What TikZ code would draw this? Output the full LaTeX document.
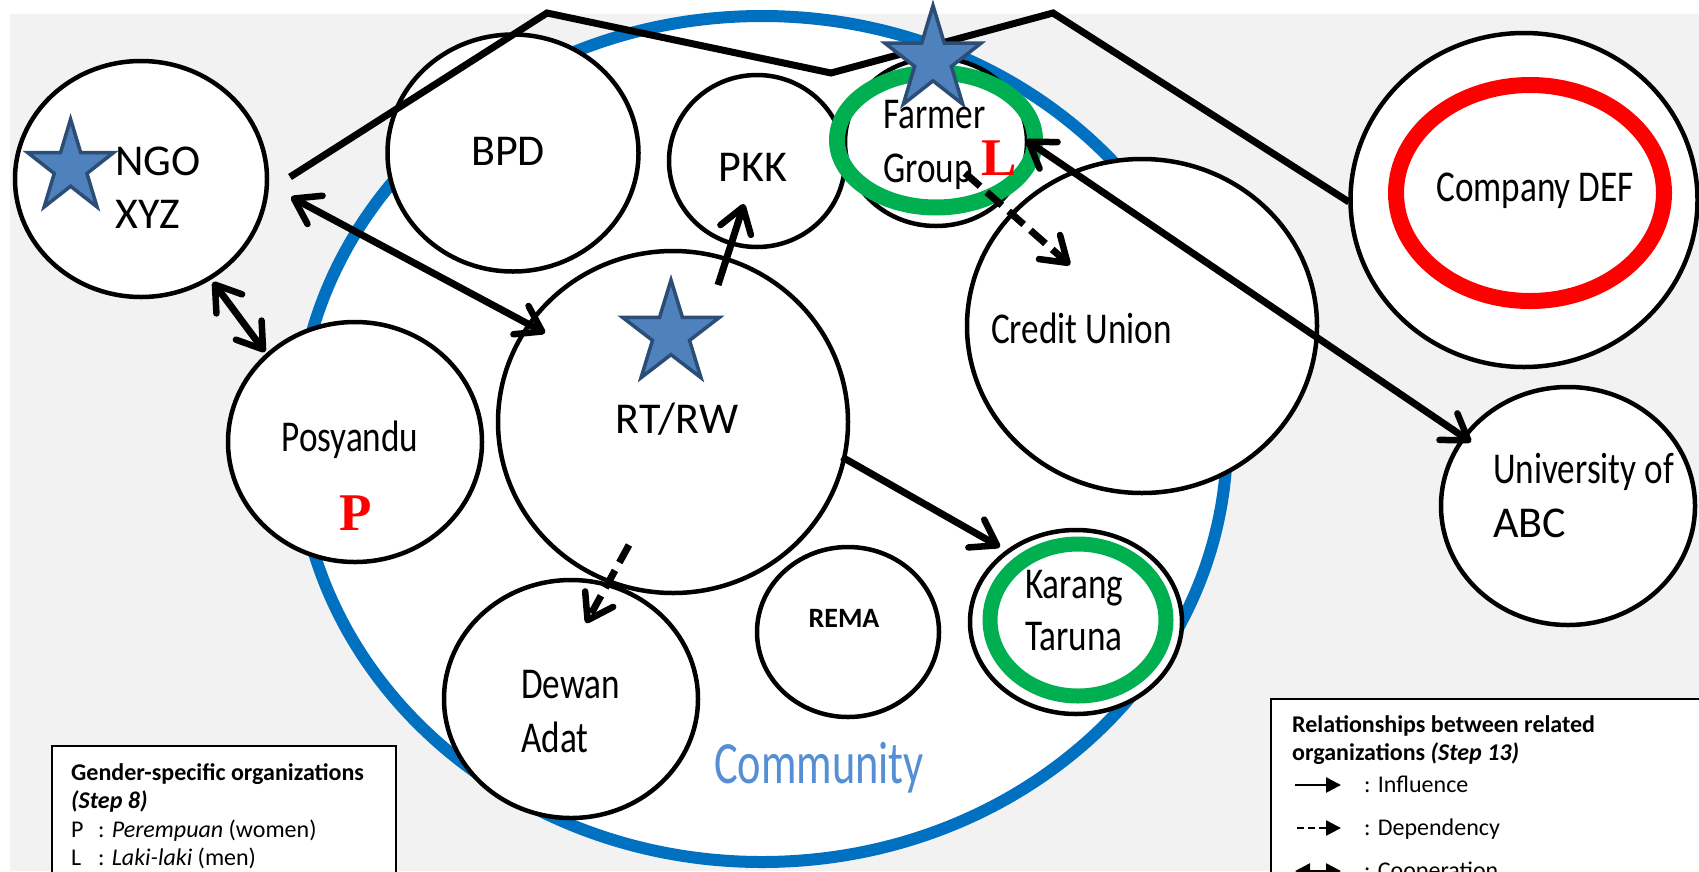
\documentclass[tikz,border=0pt]{standalone}
\usepackage{fontspec}
\setmainfont{Carlito}
\newfontfamily\handA{Carlito}
\newfontfamily\handB[FakeStretch=0.8]{Carlito}
\newfontfamily\handC[FakeStretch=0.74]{Carlito}
\newfontfamily\redserif{Liberation Serif}
\usetikzlibrary{shapes.geometric,arrows.meta}
\definecolor{bggray}{HTML}{F2F2F2}
\definecolor{commblue}{HTML}{0070C0}
\definecolor{starfill}{HTML}{4F81BD}
\definecolor{stardraw}{HTML}{2C4D75}
\definecolor{grn}{HTML}{00B050}
\definecolor{commtext}{HTML}{558ED5}
\definecolor{redmark}{HTML}{FF0000}
\newcommand\drawmystar[4]{%
  \draw[starsty,shift={(#1,#2)},xscale=#3,yscale=-#4]
    (90:1) -- (126:0.382) -- (162:1) -- (198:0.382) -- (234:1) -- (270:0.382)
    -- (306:1) -- (342:0.382) -- (18:1) -- (54:0.382) -- cycle;}
\begin{document}
\begin{tikzpicture}[x=1pt,y=-1pt,
  org/.style={ellipse, draw=black, line width=4.5pt, fill=white, inner sep=0pt},
  ring/.style={ellipse, line width=#1, inner sep=0pt, fill=none},
  starsty/.style={fill=starfill, draw=stardraw, line width=3.5pt, line join=miter},
  >={Straight Barb[length=24pt,width=32pt,line width=6.5pt,round]},
  conn/.style={line width=7pt},
  infl/.style={conn,->},
  dep/.style={conn,->,dash pattern=on 20pt off 9pt},
  coop/.style={conn,<->},
  capl/.style={inner sep=0pt, font=\handA\fontsize{44}{50}\selectfont},
  mixl/.style={inner sep=0pt, font=\handB\fontsize{44}{50}\selectfont},
  redl/.style={inner sep=0pt, text=redmark, font=\redserif\bfseries\fontsize{53}{60}\selectfont},
  remal/.style={inner sep=0pt, font=\handA\bfseries\fontsize{28}{32}\selectfont},
  comml/.style={inner sep=0pt, text=commtext, font=\handC\fontsize{60}{66}\selectfont},
  legbox/.style={draw=black, line width=1.8pt, fill=white, inner sep=0pt},
  legt/.style={inner sep=0pt, font=\fontsize{24}{28}\selectfont},
  legarrow/.style={line width=2.6pt, -{Triangle[length=15pt,width=15pt]}},
]
\useasboundingbox (0,0) rectangle (1699,871);
\fill[white] (0,0) rectangle (1699,871);
\fill[bggray] (10,14) rectangle (1699,871);

% community boundary
\node[ellipse, draw=commblue, line width=12pt, fill=white, inner sep=0pt,
      minimum width=930pt, minimum height=846pt] (comm) at (762,439) {};

% organisations
\node[org, minimum width=252pt, minimum height=236pt] (ngo) at (141,179) {};
\node[org, minimum width=251pt, minimum height=237pt] (bpd) at (513,153) {};
\node[org, minimum width=176pt, minimum height=172pt] (pkk) at (757,161) {};
\node[org, minimum width=182pt, minimum height=168pt] (farmer) at (936,142) {};
\node[org, minimum width=350pt, minimum height=342pt] (rtrw) at (673,422) {};
\node[org, minimum width=350pt, minimum height=334pt] (credit) at (1142,326) {};
\node[org, minimum width=347pt, minimum height=334pt] (company) at (1524,200) {};
\node[org, minimum width=254pt, minimum height=238pt] (univ) at (1568,506) {};
\node[org, minimum width=254pt, minimum height=240pt] (posy) at (355,442) {};
\node[org, minimum width=212pt, minimum height=184pt] (karang) at (1076,622) {};
\node[org, minimum width=182pt, minimum height=170pt] (rema) at (848,632) {};
\node[org, minimum width=254pt, minimum height=238pt] (dewan) at (571,699) {};

% coloured rings
\node[ring=16pt, draw=grn, minimum width=198pt, minimum height=135pt] (farmer-ring) at (936,140) {};
\node[ring=15pt, draw=grn, minimum width=176pt, minimum height=152pt] (karang-ring) at (1078,620) {};
\node[ring=16pt, draw=redmark, minimum width=268pt, minimum height=216pt] (company-ring) at (1530,193) {};

% boundary polyline
\coordinate (bnd-s) at (290,177);
\coordinate (bnd-1) at (547,13);
\coordinate (bnd-2) at (831,73);
\coordinate (bnd-3) at (1053,13);
\coordinate (bnd-e) at (1349,202);
\draw[line width=7pt, line join=miter] (bnd-s) -- (bnd-1) -- (bnd-2) -- (bnd-3) -- (bnd-e);

% stars
\drawmystar{70.6}{167.7}{45}{48.5}
\drawmystar{933}{60}{50.5}{54.5}
\drawmystar{671}{334}{51}{54}

% connectors
\coordinate (c1s) at (291,197);  \coordinate (c1e) at (545,333);
\coordinate (c2s) at (213,282);  \coordinate (c2e) at (265,352);
\coordinate (i1s) at (718,285);  \coordinate (i1e) at (744,204);
\coordinate (d1s) at (965,173);  \coordinate (d1e) at (1070,265);
\coordinate (c3s) at (1026,140); \coordinate (c3e) at (1471,442);
\coordinate (i2s) at (842,457);  \coordinate (i2e) at (1000,547);
\coordinate (d2s) at (629,545);  \coordinate (d2e) at (586,623);
\draw[coop] (c1s) -- (c1e);
\draw[coop] (c2s) -- (c2e);
\draw[infl] (i1s) -- (i1e);
\draw[dep] (d1s) -- (d1e);
\draw[coop] (c3s) -- (c3e);
\draw[infl] (i2s) -- (i2e);
\draw[dep] (d2s) -- (d2e);

% labels
\node[capl, anchor=base west] (ngo-t1) at (115,175) {NGO};
\node[capl, anchor=base west] (ngo-t2) at (115,228) {XYZ};
\node[capl, anchor=base] (bpd-t) at (508,165) {BPD};
\node[capl, anchor=base] (pkk-t) at (753,181) {PKK};
\node[mixl, anchor=base west] (farm-t1) at (883,128) {Farmer};
\node[mixl, anchor=base west] (farm-t2) at (883,182) {Group};
\node[redl, anchor=base west] (farm-l) at (981,175) {L};
\node[capl, anchor=base] (rt-t) at (677,433) {RT/RW};
\node[mixl, anchor=base west] (cu-t) at (991,343) {Credit Union};
\node[mixl, anchor=base] (co-t) at (1535,201) {Company DEF};
\node[mixl, anchor=base west] (un-t1) at (1493,483) {University of};
\node[capl, anchor=base west] (un-t2) at (1493,537) {ABC};
\node[mixl, anchor=base] (po-t) at (350,451) {Posyandu};
\node[redl, anchor=base] (po-p) at (356,530) {P};
\node[mixl, anchor=base west] (ka-t1) at (1025,598) {Karang};
\node[mixl, anchor=base west] (ka-t2) at (1025,650) {Taruna};
\node[remal, anchor=base] (re-t) at (844,627) {REMA};
\node[mixl, anchor=base west] (de-t1) at (521,698) {Dewan};
\node[mixl, anchor=base west] (de-t2) at (521,752) {Adat};
\node[comml, anchor=base] (comm-t) at (819,783) {Community};

% legend: gender
\node[legbox, anchor=north west, minimum width=344pt, minimum height=200pt] (legL) at (51,745) {};
\node[legt, anchor=base west] (gl1) at (71,780) {\bfseries Gender-specific organizations};
\node[legt, anchor=base west] (gl2) at (71,808) {\bfseries\itshape (Step 8)};
\node[legt, anchor=base west] (gl3) at (71,837) {\makebox[27pt][l]{P}: \textit{Perempuan} (women)};
\node[legt, anchor=base west] (gl4) at (71,865) {\makebox[27pt][l]{L}: \textit{Laki-laki} (men)};

% legend: relationships
\node[legbox, anchor=north west, minimum width=460pt, minimum height=250pt] (legR) at (1270,698) {};
\node[legt, anchor=base west] (rl1) at (1292,732) {\bfseries Relationships between related};
\node[legt, anchor=base west] (rl2) at (1292,760) {\bfseries organizations \textit{(Step 13)}};
\coordinate (la1s) at (1295,785); \coordinate (la1e) at (1341,785);
\coordinate (la2s) at (1297,828); \coordinate (la2e) at (1341,828);
\coordinate (la3s) at (1295,871); \coordinate (la3e) at (1341,871);
\draw[legarrow] (la1s) -- (la1e);
\draw[legarrow, dash pattern=on 7pt off 4pt] (la2s) -- (la2e);
\draw[legarrow, {Triangle[length=15pt,width=15pt]}-{Triangle[length=15pt,width=15pt]}] (la3s) -- (la3e);
\node[legt, anchor=base west] (rl3) at (1364,792) {: Influence};
\node[legt, anchor=base west] (rl4) at (1364,835) {: Dependency};
\node[legt, anchor=base west] (rl5) at (1364,878) {: Cooperation};
\end{tikzpicture}
\end{document}
